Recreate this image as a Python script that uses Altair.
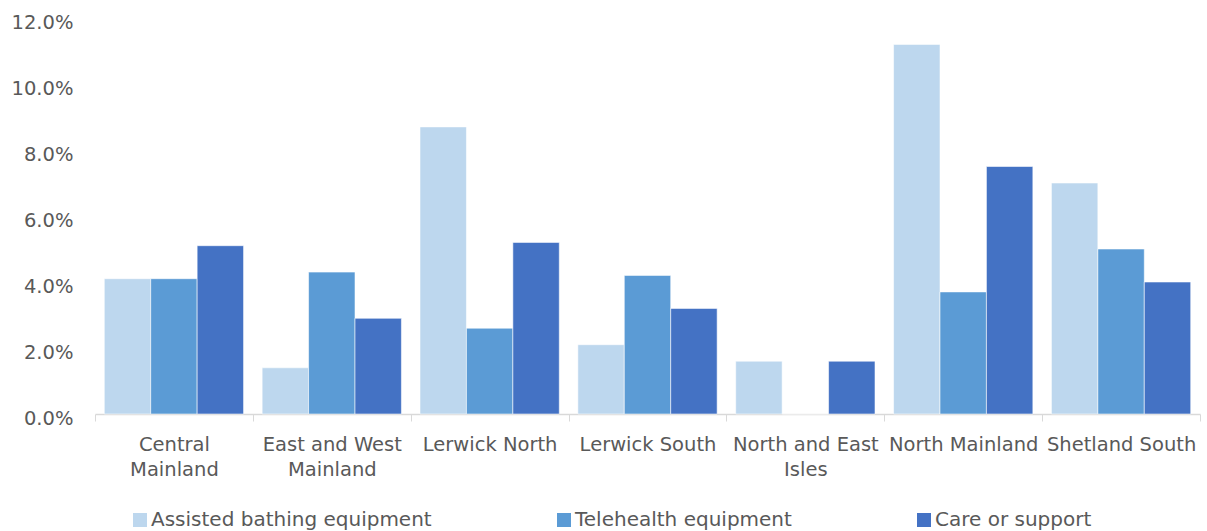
import altair as alt
import pandas as pd

categories = ["Central Mainland", "East and West Mainland", "Lerwick North", "Lerwick South",
              "North and East Isles", "North Mainland", "Shetland South"]
series = ["Assisted bathing equipment", "Telehealth equipment", "Care or support"]
assisted_bathing = [4.1, 1.4, 8.7, 2.1, 1.6, 11.2, 7.0]
telehealth = [4.1, 4.3, 2.6, 4.2, 0.0, 3.7, 5.0]
care_support = [5.1, 2.9, 5.2, 3.2, 1.6, 7.5, 4.0]
colors = ["#BDD7EE", "#5B9BD5", "#4472C4"]
y_ticks = [0, 0.02, 0.04, 0.06, 0.08, 0.10, 0.12]

rows = []
for s, vals in zip(series, [assisted_bathing, telehealth, care_support]):
    for c, v in zip(categories, vals):
        rows.append({"Locality": c, "Series": s, "Value": v / 100})
df = pd.DataFrame(rows)

FONT = "DejaVu Sans"
GREY = "#595959"

label_expr = (
    "datum.label == 'Central Mainland' ? ['Central', 'Mainland'] : "
    "datum.label == 'East and West Mainland' ? ['East and West', 'Mainland'] : "
    "datum.label == 'North and East Isles' ? ['North and East', 'Isles'] : datum.label"
)

chart = alt.Chart(df).mark_bar(stroke="white", strokeWidth=0.8, strokeOpacity=0.7).encode(
    x=alt.X("Locality:N", sort=categories, title=None,
            scale=alt.Scale(paddingInner=0, paddingOuter=0),
            axis=alt.Axis(labelAngle=0, labelExpr=label_expr, labelFont=FONT, labelFontSize=19.5,
                          labelColor=GREY, labelLineHeight=25, labelPadding=14,
                          tickBand="extent", tickSize=7, tickColor="#D9D9D9",
                          domainColor="#D9D9D9", domainWidth=1.5, labelLimit=300)),
    xOffset=alt.XOffset("Series:N", sort=series,
                        scale=alt.Scale(paddingOuter=0.2, paddingInner=0)),
    y=alt.Y("Value:Q", title=None,
            scale=alt.Scale(domain=[0, 0.12], nice=False),
            axis=alt.Axis(values=y_ticks, format=".1%", domain=False, ticks=False, grid=False,
                          labelFont=FONT, labelFontSize=19.5, labelColor=GREY, labelPadding=22,
                          labelOffset=4)),
    color=alt.Color("Series:N", sort=series,
                    scale=alt.Scale(domain=series, range=colors),
                    legend=alt.Legend(title=None, orient="none", legendX=35, legendY=492,
                                      direction="horizontal", columns=3, columnPadding=122,
                                      symbolType="square", symbolSize=196, symbolStrokeWidth=0,
                                      labelFont=FONT, labelFontSize=20, labelColor=GREY,
                                      labelOffset=1, labelLimit=400)),
).properties(
    width=1105, height=396,
    autosize=alt.AutoSizeParams(type="none"),
    padding={"left": 95, "top": 18, "right": 7, "bottom": 117},
    background="white",
).configure_view(stroke=None)

chart.save("out.html", embed_options={"renderer": "svg", "actions": False})
